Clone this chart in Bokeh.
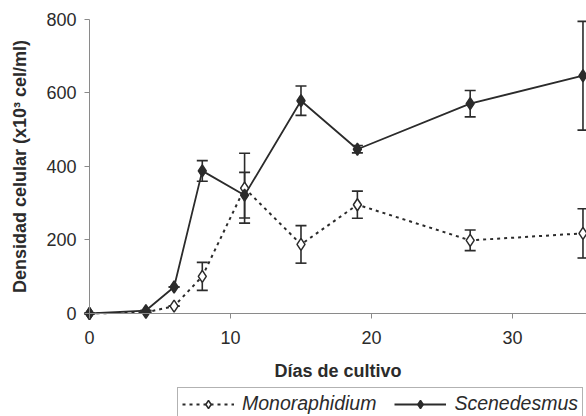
from bokeh.plotting import figure
from bokeh.models import ColumnDataSource, Whisker, TeeHead, Legend, LegendItem, Range1d, FixedTicker
from bokeh.embed import file_html
from bokeh.resources import INLINE

days = [0, 4, 6, 8, 11, 15, 19, 27, 35]
scen = [0, 8, 72, 388, 322, 579, 447, 571, 647]
scen_err = [0, 0, 0, 28, 62, 40, 10, 36, 148]
mono = [0, 3, 20, 101, 341, 188, 296, 199, 218]
mono_err = [0, 0, 0, 38, 95, 51, 37, 28, 67]

x_ticks = [0, 10, 20, 30]
y_ticks = [0, 200, 400, 600, 800]

FONT = "Liberation Sans"
INK = "#2b2b2b"

src_s = ColumnDataSource(dict(x=days, y=scen,
                              up=[v + e for v, e in zip(scen, scen_err)],
                              lo=[v - e for v, e in zip(scen, scen_err)]))
src_m = ColumnDataSource(dict(x=days, y=mono,
                              up=[v + e for v, e in zip(mono, mono_err)],
                              lo=[v - e for v, e in zip(mono, mono_err)]))

# frame spans the whole page; both axes sit at 0 inside it
p = figure(width=586, height=416, output_backend="svg", toolbar_location=None,
           x_range=Range1d(-6.312, 35.25), y_range=Range1d(-280.3, 851.7),
           min_border_left=0, min_border_top=0, min_border_bottom=0, min_border_right=0)
p.outline_line_color = None
p.xgrid.visible = False
p.ygrid.visible = False
p.background_fill_color = "white"
p.border_fill_color = "white"

for ax in (p.xaxis[0], p.yaxis[0]):
    ax.axis_line_color = "#8a8a8a"
    ax.major_tick_line_color = "#8a8a8a"
    ax.minor_tick_line_color = None
    ax.major_tick_in = 0
    ax.major_tick_out = 5
    ax.major_label_text_font = FONT
    ax.major_label_text_font_size = "18px"
    ax.major_label_text_color = INK
    ax.axis_label_text_font = FONT
    ax.axis_label_text_font_style = "bold"
    ax.axis_label_text_font_size = "18px"
    ax.axis_label_text_color = INK

p.xaxis.fixed_location = 0
p.yaxis.fixed_location = 0
p.yaxis.bounds = (0, 800)
p.xaxis.bounds = (0, 36)
p.xaxis.ticker = FixedTicker(ticks=x_ticks)
p.yaxis.ticker = FixedTicker(ticks=y_ticks)
p.xaxis.axis_label = "Días de cultivo"
p.yaxis.axis_label = "Densidad celular (x10³ cel/ml)"
p.xaxis.major_label_standoff = 13
p.xaxis.axis_label_standoff = 13
p.yaxis.major_label_standoff = 8
p.yaxis.axis_label_standoff = 13

for src in (src_m, src_s):
    w = Whisker(source=src, base="x", upper="up", lower="lo", line_color=INK, line_width=1.6,
                upper_head=TeeHead(size=11, line_color=INK, line_width=1.6),
                lower_head=TeeHead(size=11, line_color=INK, line_width=1.6))
    p.add_layout(w)

lm = p.line("x", "y", source=src_m, line_color=INK, line_width=2, line_dash="3 4")
ls = p.line("x", "y", source=src_s, line_color=INK, line_width=1.8)
sm = p.scatter("x", "y", source=src_m, marker="diamond", size=12, fill_color="white",
               line_color=INK, line_width=1.5)
ss = p.scatter("x", "y", source=src_s, marker="diamond", size=12, fill_color=INK,
               line_color=INK, line_width=1.5)

legend = Legend(items=[LegendItem(label="Monoraphidium", renderers=[lm, sm]),
                       LegendItem(label="Scenedesmus", renderers=[ls, ss])],
                orientation="horizontal", location=(177, -4))
legend.label_text_font = FONT
legend.label_text_font_style = "italic"
legend.label_text_font_size = "19.5px"
legend.label_text_color = INK
legend.border_line_color = "#666666"
legend.border_line_width = 1.5
legend.padding = 4
legend.spacing = 18
legend.glyph_width = 52
legend.label_standoff = 8
legend.margin = 0
p.add_layout(legend, "center")

open("out.html", "w").write(file_html(p, INLINE))
